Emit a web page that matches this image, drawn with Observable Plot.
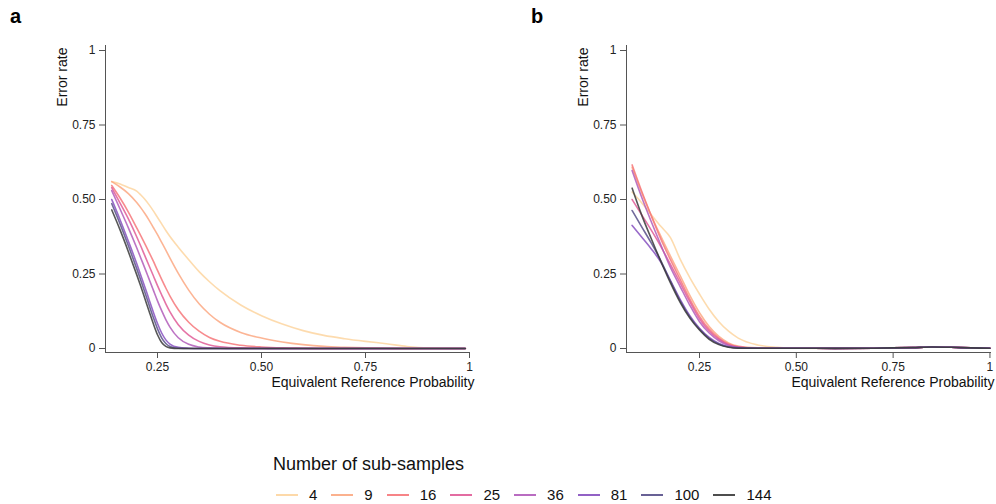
<!DOCTYPE html>
<html><head><meta charset="utf-8">
<script src="https://cdn.jsdelivr.net/npm/d3@7"></script>
<script src="https://cdn.jsdelivr.net/npm/@observablehq/plot@0.6"></script>
<style>
body{margin:0;background:#fff;font-family:"Liberation Sans",Arial,sans-serif;}
#root{position:relative;width:996px;height:504px;overflow:hidden;background:#fff}
.panel{position:absolute;top:0}
.letter{position:absolute;font-weight:bold;font-size:20px;line-height:20px;color:#000}
#legend-title{position:absolute;left:273px;top:455px;font-size:18px;line-height:18px;color:#111;white-space:nowrap}
#legend-row{position:absolute;left:276px;top:487px;height:15px;display:flex;align-items:center;font-size:15px;line-height:15px;color:#111;white-space:nowrap}
.item{display:flex;align-items:center;margin-right:14px}
.sw{width:22px;height:0;border-top:2px solid;margin-right:11px;opacity:0.9}
</style></head><body><div id="root"></div>
<script>
const seriesN = [4, 9, 16, 25, 36, 81, 100, 144];
const seriesColors = ["#fdd5a0", "#fba882", "#f6777a", "#e05c97", "#b15cba", "#8650bf", "#58508a", "#3a3a3a"];
const xTicks = [0.25, 0.5, 0.75, 1];
const xTickLabels = ["0.25", "0.50", "0.75", "1"];
const yTicks = [0, 0.25, 0.5, 0.75, 1];
const yTickLabels = ["0", "0.25", "0.50", "0.75", "1"];
const xTitle = "Equivalent Reference Probability";
const yTitle = "Error rate";
const legendTitle = "Number of sub-samples";

// Panel a
const xA = [0.14,0.16,0.18,0.20,0.21,0.22,0.23,0.24,0.25,0.26,0.27,0.28,0.30,0.325,0.35,0.375,0.40,0.45,0.50,0.55,0.60,0.65,0.70,0.75,0.80,0.85,0.90,0.99];
const a4   = [0.560,0.552,0.540,0.528,0.515,0.500,0.482,0.462,0.440,0.418,0.396,0.376,0.340,0.298,0.258,0.224,0.194,0.146,0.110,0.082,0.060,0.044,0.033,0.024,0.016,0.007,0.002,0];
const a9   = [0.560,0.542,0.520,0.490,0.472,0.452,0.430,0.406,0.382,0.356,0.330,0.303,0.252,0.196,0.150,0.115,0.088,0.054,0.035,0.022,0.013,0.007,0.004,0.002,0.001,0,0,0];
const a16  = [0.547,0.505,0.458,0.405,0.378,0.350,0.322,0.293,0.262,0.232,0.203,0.176,0.130,0.088,0.058,0.037,0.024,0.011,0.005,0.002,0.001,0,0,0,0,0,0,0];
const a25  = [0.540,0.488,0.435,0.375,0.343,0.310,0.277,0.244,0.211,0.180,0.150,0.123,0.080,0.045,0.024,0.012,0.006,0.002,0.001,0,0,0,0,0,0,0,0,0];
const a36  = [0.530,0.468,0.405,0.338,0.303,0.268,0.232,0.196,0.160,0.127,0.097,0.072,0.036,0.014,0.005,0.002,0.001,0,0,0,0,0,0,0,0,0,0,0];
const a81  = [0.500,0.432,0.360,0.285,0.245,0.205,0.163,0.122,0.084,0.052,0.029,0.015,0.004,0.001,0,0,0,0,0,0,0,0,0,0,0,0,0,0];
const a100 = [0.486,0.418,0.345,0.268,0.228,0.187,0.145,0.104,0.066,0.036,0.017,0.007,0.001,0,0,0,0,0,0,0,0,0,0,0,0,0,0,0];
const a144 = [0.465,0.398,0.325,0.248,0.208,0.166,0.124,0.083,0.046,0.020,0.007,0.002,0,0,0,0,0,0,0,0,0,0,0,0,0,0,0,0];

// Panel b
const xB = [0.076,0.10,0.125,0.15,0.175,0.20,0.225,0.25,0.275,0.30,0.325,0.35,0.40,0.45,0.50,0.60,0.70,0.75,0.80,0.85,0.90,0.95,1.00];
const b4   = [0.525,0.490,0.450,0.410,0.372,0.300,0.238,0.183,0.132,0.090,0.058,0.035,0.012,0.004,0.001,0.0005,0.001,0.002,0.003,0.005,0.004,0.002,0.001];
const b9   = [0.608,0.525,0.447,0.377,0.310,0.245,0.178,0.120,0.074,0.041,0.019,0.008,0.002,0.001,0.001,0.0005,0.001,0.002,0.003,0.005,0.004,0.002,0.001];
const b16  = [0.616,0.530,0.447,0.368,0.298,0.232,0.166,0.108,0.065,0.035,0.015,0.006,0.001,0.001,0.001,0.0005,0.001,0.002,0.003,0.005,0.004,0.002,0.001];
const b25  = [0.500,0.450,0.398,0.343,0.282,0.220,0.157,0.100,0.059,0.031,0.013,0.005,0.001,0.001,0.001,0.0005,0.001,0.002,0.003,0.005,0.004,0.002,0.001];
const b36  = [0.597,0.510,0.427,0.348,0.272,0.208,0.145,0.090,0.052,0.026,0.010,0.004,0.001,0.001,0.001,0.0005,0.001,0.002,0.003,0.005,0.004,0.002,0.001];
const b81  = [0.413,0.375,0.335,0.290,0.228,0.165,0.110,0.068,0.037,0.017,0.006,0.002,0.001,0.001,0.001,0.0005,0.001,0.002,0.003,0.005,0.004,0.002,0.001];
const b100 = [0.463,0.410,0.355,0.295,0.226,0.160,0.106,0.065,0.034,0.015,0.005,0.002,0.001,0.001,0.001,0.0005,0.001,0.002,0.003,0.005,0.004,0.002,0.001];
const b144 = [0.538,0.450,0.370,0.293,0.220,0.155,0.102,0.062,0.031,0.013,0.004,0.001,0.001,0.001,0.001,0.0005,0.001,0.002,0.003,0.005,0.004,0.002,0.001];

const yDomain = [-0.0134, 1.0168];

function panel(xs, ys, xDomain, marginLeft, marginRight, labelDx) {
  const data = [];
  seriesN.forEach((n, i) => xs.forEach((x, j) => data.push({n, x, y: ys[i][j]})));
  return Plot.plot({
    width: 498, height: 400,
    marginTop: 45, marginBottom: 48, marginLeft, marginRight,
    style: {fontFamily: "'Liberation Sans', Arial, sans-serif", fontSize: "12px", color: "#222", background: "#fff", overflow: "visible"},
    x: {domain: xDomain},
    y: {domain: yDomain},
    color: {type: "ordinal", domain: seriesN, range: seriesColors},
    marks: [
      Plot.line(data, {x: "x", y: "y", z: "n", stroke: "n", strokeWidth: 1.6, strokeOpacity: 0.85, curve: "monotone-x"}),
      Plot.ruleX([xDomain[0]], {stroke: "#555", strokeWidth: 1}),
      Plot.ruleY([yDomain[0]], {stroke: "#555", strokeWidth: 1}),
      Plot.axisX(xTicks, {tickFormat: d => xTickLabels[xTicks.indexOf(d)], tickSize: 6, tickPadding: 4, label: null, stroke: "#555", fill: "#222"}),
      Plot.axisY(yTicks, {tickFormat: d => yTickLabels[yTicks.indexOf(d)], tickSize: 6, tickPadding: 4, label: null, stroke: "#555", fill: "#222"}),
      Plot.text([xTitle], {frameAnchor: "bottom-right", textAnchor: "end", dx: labelDx, dy: 34, fontSize: 14, fill: "#111"}),
      Plot.text([yTitle], {frameAnchor: "top-left", textAnchor: "end", rotate: -90, dx: -48, dy: 2, fontSize: 14, fill: "#111"})
    ]
  });
}

const root = d3.select("#root");
const pa = panel(xA, [a4, a9, a16, a25, a36, a81, a100, a144], [0.125, 1.0024], 105, 28, 4);
pa.classList.add("panel"); pa.style.left = "0px";
root.node().appendChild(pa);
const pb = panel(xB, [b4, b9, b16, b25, b36, b81, b100, b144], [0.0615, 1.004], 128, 5, 3);
pb.classList.add("panel"); pb.style.left = "498px";
root.node().appendChild(pb);

root.append("div").attr("class", "letter").style("left", "10px").style("top", "6px").text("a");
root.append("div").attr("class", "letter").style("left", "531px").style("top", "6px").text("b");

root.append("div").attr("id", "legend-title").text(legendTitle);
const row = root.append("div").attr("id", "legend-row");
seriesN.forEach((n, i) => {
  const it = row.append("div").attr("class", "item");
  it.append("div").attr("class", "sw").style("border-top-color", seriesColors[i]);
  it.append("span").text(String(n));
});
</script></body></html>
